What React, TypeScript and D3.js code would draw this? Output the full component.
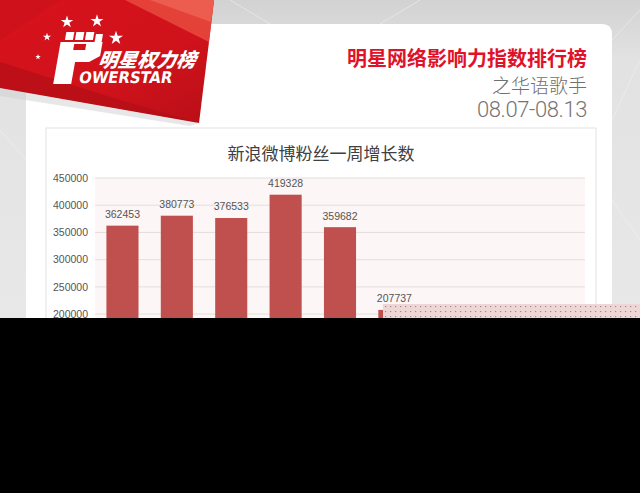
import React from "react";
import * as d3 from "d3";

const categories = ["1", "2", "3", "4", "5", "6", "7", "8", "9"];
const values = [362453, 380773, 376533, 419328, 359682, 207737];
const yTicks = [0, 50000, 100000, 150000, 200000, 250000, 300000, 350000, 400000, 450000];
const chartTitle = "新浪微博粉丝一周增长数";
const headTitle = "明星网络影响力指数排行榜";
const headSub = "之华语歌手";
const headDate = "08.07-08.13";

const W = 640;
const H = 493;

export default function App() {
  const x = d3.scaleBand<string>().domain(categories).range([95, 585]).paddingInner(0.41).paddingOuter(0.21);
  const y = d3.scaleLinear().domain([0, 450000]).range([423, 178]);
  const numFont = "'Liberation Sans', Arial, sans-serif";
  const cjk = "'Noto Sans CJK SC', 'Noto Sans', sans-serif";

  return (
    <svg width={W} height={H} viewBox={`0 0 ${W} ${H}`} style={{ position: "fixed", left: 0, top: 0 }}>
      <defs>
        <linearGradient id="bg" x1="0" y1="0" x2="0" y2="1">
          <stop offset="0" stopColor="#d2d2d2" />
          <stop offset="0.12" stopColor="#e2e2e2" />
          <stop offset="1" stopColor="#ececec" />
        </linearGradient>
        <linearGradient id="red" x1="0" y1="0" x2="1" y2="1">
          <stop offset="0" stopColor="#d8121c" />
          <stop offset="0.6" stopColor="#d0121b" />
          <stop offset="1" stopColor="#b80f18" />
        </linearGradient>
        <pattern id="dots" x="383" y="304" width="5" height="5" patternUnits="userSpaceOnUse">
          <rect width="5" height="5" fill="#efd6d6" />
          <rect x="2" y="2" width="1.2" height="1.1" fill="#a08686" />
        </pattern>
      </defs>

      {/* page background */}
      <rect x={0} y={0} width={W} height={H} fill="url(#bg)" />
      <g stroke="#f2f2f2" strokeWidth={0.8} opacity={0.7}>
        <line x1={230} y1={0} x2={270} y2={24} />
        <line x1={420} y1={0} x2={380} y2={24} />
        <line x1={612} y1={40} x2={640} y2={10} />
        <line x1={612} y1={120} x2={640} y2={60} />
        <line x1={612} y1={200} x2={640} y2={240} />
        <line x1={0} y1={130} x2={26} y2={160} />
      </g>

      {/* white card */}
      <path d="M26,24 H602 Q612,24 612,34 V318 H26 Z" fill="#ffffff" />

      {/* header texts */}
      <text x={587} y={65.5} textAnchor="end" fontFamily={cjk} fontWeight={700} fontSize={20} fill="#e0122a">
        {headTitle}
      </text>
      <text x={587} y={93} textAnchor="end" fontFamily={cjk} fontWeight={300} fontSize={19} fill="#707070">
        {headSub}
      </text>
      <text x={587} y={117} textAnchor="end" fontFamily="Roboto, 'Open Sans', sans-serif" fontWeight={300} fontSize={22} fill="#747474" letterSpacing={-0.4}>
        {headDate}
      </text>

      {/* chart panel */}
      <rect x={46} y={128} width={550} height={300} fill="#ffffff" stroke="#e2e2e2" strokeWidth={1} />
      <text x={321} y={160} textAnchor="middle" fontFamily={cjk} fontSize={17} fill="#404040">
        {chartTitle}
      </text>

      {/* plot area */}
      <rect x={95} y={y(450000)} width={490} height={y(0) - y(450000)} fill="#fcf6f6" />
      {yTicks.map((t) => (
        <g key={t}>
          <line x1={95} x2={585} y1={y(t)} y2={y(t)} stroke="#e6dede" strokeWidth={1} />
          <text x={88} y={y(t)} dy="0.35em" textAnchor="end" fontFamily={numFont} fontSize={10.5} fill="#555555">
            {t}
          </text>
        </g>
      ))}

      {values.map((v, i) => {
        const c = categories[i];
        const bx = x(c) as number;
        return (
          <g key={c}>
            <rect x={bx} y={y(v)} width={x.bandwidth()} height={y(0) - y(v)} fill="#c0504d" />
            <text x={bx + x.bandwidth() / 2} y={y(v) - 7.5} textAnchor="middle" fontFamily={numFont} fontSize={10.5} fill="#555555">
              {v}
            </text>
          </g>
        );
      })}

      {/* logo banner */}
      <polygon points="0,0 214,0 208,50 199,123 0,88" fill="url(#red)" />
      <polygon points="125,0 214,0 209,42" fill="#e84a3e" opacity={0.85} />
      <polygon points="150,0 214,0 211,22" fill="#f06a58" opacity={0.7} />
      <polygon points="0,62 120,100 199,123 0,88" fill="#b20e17" opacity={0.7} />
      <polygon points="0,0 60,0 0,40" fill="#c8101a" opacity={0.6} />
      <polygon points="0,88 199,123 190,126 0,96" fill="#cfcfcf" opacity={0.5} />

      {/* stars */}
      <g fill="#ffffff">
        {[
          [67, 22, 4],
          [97, 21, 4.2],
          [116, 38, 4.5],
          [47, 37, 2.6],
          [38, 57, 1.8],
        ].map(([cx, cy, r], i) => (
          <path key={i} d={d3.symbol(d3.symbolStar, r * r * 3)() as string} transform={`translate(${cx},${cy})`} />
        ))}
      </g>

      {/* fist / P icon */}
      <g fill="#ffffff" transform="translate(0,0) skewX(-10)">
        <rect x={72} y={32} width={8} height={8} />
        <rect x={82} y={32} width={8} height={8} />
        <rect x={92} y={32} width={8} height={8} />
        <rect x={102} y={34} width={7} height={8} />
        <path d="M68,42 H110 V56 L100,62 H86 V84 H68 Z" />
        <rect x={82} y={44} width={12} height={6} fill="#d0121b" />
      </g>

      {/* logo text */}
      <text x={98} y={67} fontFamily={cjk} fontWeight={900} fontStyle="italic" fontSize={19.5} fill="#ffffff" transform="skewX(-8) translate(9,0)">
        明星权力榜
      </text>
      <text x={80} y={83} fontFamily="'DejaVu Sans Condensed', 'DejaVu Sans', sans-serif" fontWeight={700} fontSize={16} fill="#ffffff" textLength={93} lengthAdjust="spacingAndGlyphs" transform="skewX(-10) translate(13,0)">
        OWERSTAR
      </text>

      {/* cropped bottom of the picture */}
      <rect x={383} y={304} width={257} height={14} fill="url(#dots)" />
      <rect x={0} y={318} width={W} height={H - 318} fill="#000000" />
    </svg>
  );
}
